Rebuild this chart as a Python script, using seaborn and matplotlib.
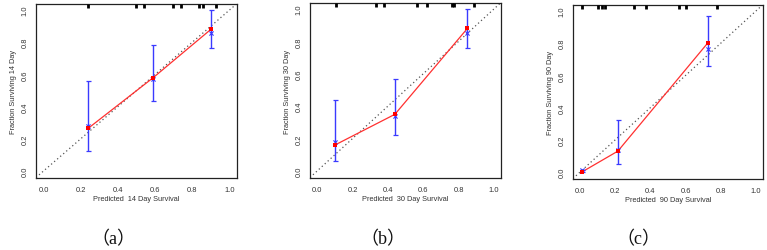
import matplotlib
matplotlib.use("Agg")
import matplotlib.pyplot as plt
import matplotlib.transforms as mtransforms
import seaborn as sns
import pandas as pd

# --- data ---
DAYS = [14, 30, 90]
PANEL_LABELS = ["（a）", "（b）", "（c）"]

PRED = [[0.24, 0.59, 0.90], [0.10, 0.44, 0.85], [0.01, 0.215, 0.725]]
OBS = [[0.265, 0.58, 0.88], [0.16, 0.35, 0.88], [0.0, 0.13, 0.80]]
CORR = [[0.28, 0.57, 0.86], [0.18, 0.34, 0.85], [0.01, 0.135, 0.765]]
LOW = [[0.125, 0.435, 0.765], [0.06, 0.22, 0.76], [0.0, 0.05, 0.66]]
HIGH = [[0.56, 0.78, 1.0], [0.44, 0.57, 1.0], [0.01, 0.325, 0.97]]

RUG = [
    [0.242, 0.496, 0.542, 0.697, 0.740, 0.838, 0.855, 0.925],
    [0.108, 0.332, 0.379, 0.563, 0.619, 0.761, 0.777, 0.885],
    [0.010, 0.104, 0.127, 0.142, 0.307, 0.377, 0.563, 0.600, 0.777],
]
TICKS = [0.0, 0.2, 0.4, 0.6, 0.8, 1.0]

# axes boxes in pixels: left, right, top, bottom (figure 767 x 251)
BOXES = [(36, 237, 5, 179), (310, 501, 4, 179), (573, 763, 6, 180)]
LABEL_X = [113, 383, 638]

W, H = 767, 251
sns.set_style("white")
plt.rcParams["font.family"] = ["Liberation Sans", "DejaVu Sans"]

fig = plt.figure(figsize=(W / 100, H / 100), dpi=100)
txt = "#333333"

for i in range(3):
    l, r, t, b = BOXES[i]
    ax = fig.add_axes([l / W, 1 - b / H, (r - l) / W, (b - t) / H])
    df = pd.DataFrame({"pred": PRED[i], "obs": OBS[i], "corr": CORR[i],
                       "low": LOW[i], "high": HIGH[i]})

    ax.axline((0, 0), slope=1, color="#555555", ls=(0, (1, 2.2)), lw=0.9, zorder=1)
    sns.lineplot(data=df, x="pred", y="obs", ax=ax, color="#ff3030", lw=0.9,
                 zorder=2, sort=False)
    ax.errorbar(df["pred"], df["corr"], yerr=[df["corr"] - df["low"], df["high"] - df["corr"]],
                fmt="none", ecolor="#3a3aff", elinewidth=1.0, capsize=1.8, capthick=0.9, zorder=3)
    sns.scatterplot(data=df, x="pred", y="corr", ax=ax, marker="x", color="#3a3aff",
                    s=9, linewidth=0.8, zorder=4)
    sns.scatterplot(data=df, x="pred", y="obs", ax=ax, marker="s", color="#ff0000",
                    s=9, linewidth=0, zorder=5)

    trans = mtransforms.blended_transform_factory(ax.transData, ax.transAxes)
    ax.vlines(RUG[i], 0.975, 1.0, transform=trans, color="black", lw=2.0, zorder=6)

    ax.set_xlim(-0.04, 1.04)
    ax.set_ylim(-0.043, 1.037)
    ax.set_xticks(TICKS)
    ax.set_yticks(TICKS)
    ax.set_xticklabels([f"{v:.1f}" for v in TICKS])
    ax.set_yticklabels([f"{v:.1f}" for v in TICKS], rotation=90, va="center")
    ax.tick_params(length=2.5, width=0.7, labelsize=5.4, colors=txt, pad=3)
    for s in ax.spines.values():
        s.set_color("#222222")
        s.set_linewidth(0.9)
    ax.set_xlabel(f"Predicted  {DAYS[i]} Day Survival", fontsize=5.3, color=txt, labelpad=2)
    ax.set_ylabel(f"Fraction Surviving {DAYS[i]} Day", fontsize=5.3, color=txt, labelpad=3)

    fig.text(LABEL_X[i] / W, 1 - 240 / H, PANEL_LABELS[i], ha="center", va="center",
             fontsize=13, color="#111111",
             family=["Liberation Serif", "Noto Sans CJK SC"])

fig.savefig("out.png", dpi=100)
